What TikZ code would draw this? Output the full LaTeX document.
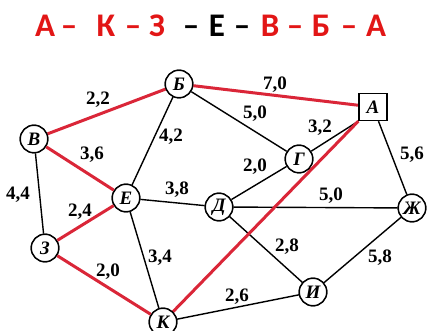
\documentclass[tikz,border=0pt]{standalone}
\usepackage{fontspec}
\setmainfont{Liberation Serif}
\newfontfamily\titlefont{Carlito}
\definecolor{pathred}{RGB}{218,38,56}
\definecolor{titlered}{RGB}{226,22,22}
\begin{document}
\begin{tikzpicture}[x=1pt,y=-1pt,
  vtx/.style={circle,draw,line width=1.4pt,minimum size=27.5pt,inner sep=0pt,fill=white,font=\fontsize{19}{19}\selectfont\bfseries\itshape},
  sqv/.style={rectangle,draw,line width=1.4pt,minimum width=28pt,minimum height=27pt,inner sep=0pt,fill=white,font=\fontsize{19}{19}\selectfont\bfseries\itshape},
  edge/.style={line width=1.4pt,black},
  redge/.style={line width=3pt,pathred},
  wlab/.style={font=\fontsize{19}{19}\selectfont\bfseries,inner sep=0pt},
  tch/.style={font=\titlefont\bfseries\fontsize{33}{33}\selectfont,inner sep=0pt,anchor=base},
  tred/.style={tch,text=titlered}]
\useasboundingbox (0,0) rectangle (429,331);
% title
\node[tred] (t1) at (45,37) {А};
\node[tred] (t2) at (69,37) {–};
\node[tred] (t3) at (106,37) {К};
\node[tred] (t4) at (133,37) {–};
\node[tred] (t5) at (157,37) {З};
\node[tch] (t6) at (191,37) {–};
\node[tch] (t7) at (217,37) {Е};
\node[tch] (t8) at (242,37) {–};
\node[tred] (t9) at (270,37) {В};
\node[tred] (t10) at (295,37) {–};
\node[tred] (t11) at (321,37) {Б};
\node[tred] (t12) at (349,37) {–};
\node[tred] (t13) at (376,37) {А};
% vertices
\node[vtx] (B) at (179,84) {Б};
\node[sqv] (A) at (373,107) {А};
\node[vtx] (V) at (34,139) {В};
\node[vtx] (E) at (126,198) {Е};
\node[vtx] (G) at (299,159) {Г};
\node[vtx] (D) at (219,207) {Д};
\node[vtx] (Zh) at (412,208) {Ж};
\node[vtx] (Z) at (45,248) {З};
\node[vtx] (K) at (163,322) {К};
\node[vtx] (I) at (313,292) {И};
% black edges
\draw[edge] (B) -- (G);
\draw[edge] (B) -- (E);
\draw[edge] (V) -- (Z);
\draw[edge] (E) -- (D);
\draw[edge] (E) -- (K);
\draw[edge] (K) -- (I);
\draw[edge] (G) -- (A.south west);
\draw[edge] (D) -- (G);
\draw[edge] (D) -- (Zh);
\draw[edge] (A) -- (Zh);
\draw[edge] (D) -- (I);
\draw[edge] (I) -- (Zh);
% red edges
\draw[redge] (V) -- (B);
\draw[redge] (B) -- (A);
\draw[redge] (V) -- (E);
\draw[redge] (Z) -- (E);
\draw[redge] (Z) -- (K);
\draw[redge] (K) -- (A.south west);
% redraw vertices on top
\node[vtx] at (B) {Б};
\node[sqv] at (A) {А};
\node[vtx] at (V) {В};
\node[vtx] at (E) {Е};
\node[vtx] at (G) {Г};
\node[vtx] at (D) {Д};
\node[vtx] at (Zh) {Ж};
\node[vtx] at (Z) {З};
\node[vtx] at (K) {К};
\node[vtx] at (I) {И};
% weights
\node[wlab] (w1) at (98,100) {2,2};
\node[wlab] (w2) at (275,85) {7,0};
\node[wlab] (w3) at (255,114) {5,0};
\node[wlab] (w4) at (171,137) {4,2};
\node[wlab] (w5) at (92,155) {3,6};
\node[wlab] (w6) at (320,128) {3,2};
\node[wlab] (w7) at (412,155) {5,6};
\node[wlab] (w8) at (255,167) {2,0};
\node[wlab] (w9) at (18,195) {4,4};
\node[wlab] (w10) at (177,190) {3,8};
\node[wlab] (w11) at (331,196) {5,0};
\node[wlab] (w12) at (80,212) {2,4};
\node[wlab] (w13) at (160,258) {3,4};
\node[wlab] (w14) at (108,272) {2,0};
\node[wlab] (w15) at (287,247) {2,8};
\node[wlab] (w16) at (380,258) {5,8};
\node[wlab] (w17) at (237,297) {2,6};
\end{tikzpicture}
\end{document}
